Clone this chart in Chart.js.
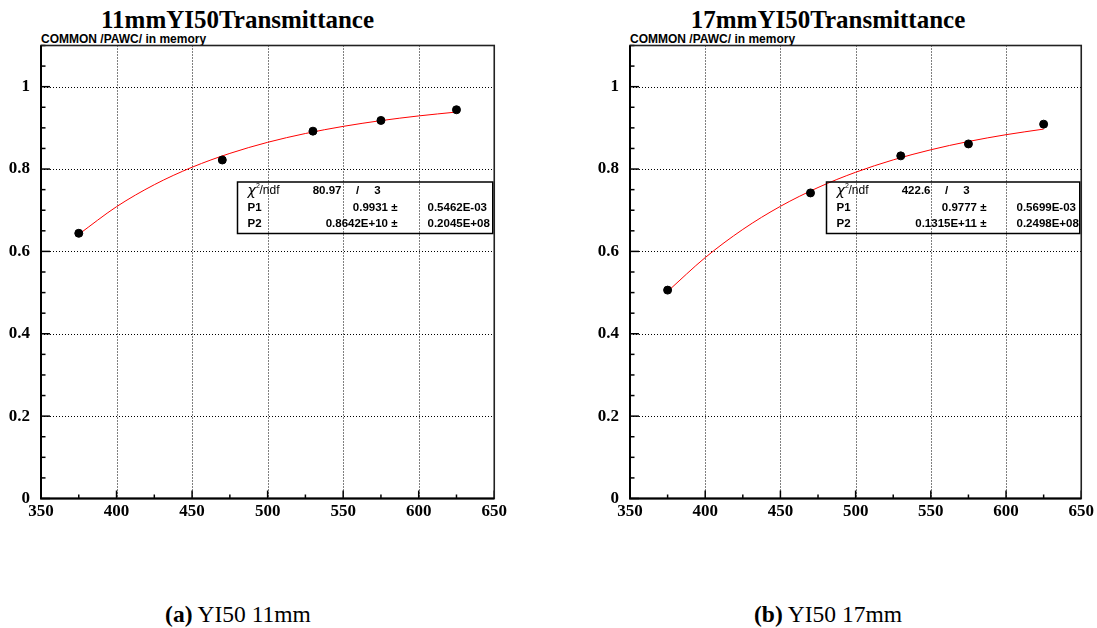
<!DOCTYPE html>
<html><head><meta charset="utf-8">
<script src="https://cdn.jsdelivr.net/npm/chart.js@4.4.1/dist/chart.umd.min.js"></script>
<style>
body{margin:0;width:1097px;height:628px;background:#fff;position:relative;overflow:hidden;}
.panel{position:absolute;top:0;}
.title{position:absolute;top:7.4px;font:bold 25px 'Liberation Serif';line-height:25px;white-space:nowrap;transform:translateX(-50%);color:#000;}
.sub{position:absolute;top:33.3px;font:bold 12px 'Liberation Sans';line-height:12px;white-space:nowrap;color:#000;}
.cap{position:absolute;top:602.5px;font:23.5px 'Liberation Serif';line-height:23.5px;white-space:nowrap;transform:translateX(-50%);color:#000;}
</style>
</head><body>
<div class="title" style="left:237.5px">11mmYI50Transmittance</div>
<div class="title" style="left:828px">17mmYI50Transmittance</div>
<div class="sub" style="left:41px">COMMON /PAWC/ in memory</div>
<div class="sub" style="left:630px">COMMON /PAWC/ in memory</div>
<div class="panel" style="left:0px"><canvas id="c1" width="510" height="540"></canvas></div>
<div class="panel" style="left:589px"><canvas id="c2" width="508" height="540"></canvas></div>
<div class="cap" style="left:238px"><b>(a)</b> YI50 11mm</div>
<div class="cap" style="left:828px"><b>(b)</b> YI50 17mm</div>
<script>
// measured points
const wavelengths = [375, 470, 530, 575, 625];
const trans11 = [0.644, 0.822, 0.892, 0.918, 0.944];
const trans17 = [0.506, 0.742, 0.832, 0.861, 0.909];
// fitted curve
const fitX = [375, 400, 425, 450, 475, 500, 525, 550, 575, 600, 625];
const fit11 = [0.6415, 0.7086, 0.7620, 0.8044, 0.8380, 0.8649, 0.8863, 0.9036, 0.9176, 0.9290, 0.9384];
const fit17 = [0.5028, 0.5850, 0.6534, 0.7095, 0.7551, 0.7922, 0.8223, 0.8468, 0.8669, 0.8834, 0.8970];
// stats box texts
const chiNdf11 = ['80.97', '3'];
const p1_11 = ['0.9931', '0.5462E-03'];
const p2_11 = ['0.8642E+10', '0.2045E+08'];
const chiNdf17 = ['422.6', '3'];
const p1_17 = ['0.9777', '0.5699E-03'];
const p2_17 = ['0.1315E+11', '0.2498E+08'];
// axes
const xMin = 350, xMax = 650, xStep = 25, xMajor = 50;
const yMin = 0, yMax = 1.1, yStep = 0.05;

const isMajorY = v => Math.abs(Math.round(v * 100) % 20) === 0;
const isMajorX = v => Math.round(v) % xMajor === 0;

const framePlugin = {
  id: 'frame',
  beforeDatasetsDraw(chart) {
    const {ctx, chartArea: a, scales: {x, y}} = chart;
    ctx.save();
    ctx.strokeStyle = '#000';
    ctx.lineWidth = 1;
    ctx.setLineDash([1, 2]);
    x.ticks.forEach(t => {
      if (isMajorX(t.value) && t.value > x.min && t.value < x.max) {
        const px = Math.round(x.getPixelForValue(t.value)) + 0.5;
        ctx.beginPath(); ctx.moveTo(px, a.top); ctx.lineTo(px, a.bottom); ctx.stroke();
      }
    });
    y.ticks.forEach(t => {
      if (isMajorY(t.value) && t.value > 0.01 && t.value < 1.09) {
        const py = Math.round(y.getPixelForValue(t.value)) + 0.5;
        ctx.beginPath(); ctx.moveTo(a.left, py); ctx.lineTo(a.right, py); ctx.stroke();
      }
    });
    ctx.setLineDash([]);
    ctx.lineWidth = 1.5;
    x.ticks.forEach(t => {
      const px = x.getPixelForValue(t.value);
      const len = isMajorX(t.value) ? 8 : 4;
      ctx.beginPath(); ctx.moveTo(px, a.bottom); ctx.lineTo(px, a.bottom - len); ctx.stroke();
    });
    y.ticks.forEach(t => {
      const py = y.getPixelForValue(t.value);
      const len = isMajorY(t.value) ? 9 : 4.5;
      ctx.beginPath(); ctx.moveTo(a.left, py); ctx.lineTo(a.left + len, py); ctx.stroke();
    });
    ctx.lineWidth = 1.6;
    ctx.strokeStyle = '#222';
    ctx.strokeRect(a.left, a.top, a.right - a.left, a.bottom - a.top);
    ctx.lineWidth = 2;
    ctx.strokeStyle = '#000';
    ctx.beginPath(); ctx.moveTo(a.left, a.top); ctx.lineTo(a.left, a.bottom); ctx.lineTo(a.right, a.bottom); ctx.stroke();
    ctx.restore();
  },
  afterDatasetsDraw(chart, args, opts) {
    const {ctx, chartArea: a} = chart;
    const L = a.left + 196.5, T = a.top + 136.5, R = a.right - 1.5, B = a.top + 188;
    ctx.save();
    ctx.strokeStyle = '#000';
    ctx.lineWidth = 1.5;
    ctx.strokeRect(L, T, R - L, B - T);
    ctx.fillStyle = '#000';
    ctx.textBaseline = 'middle';
    const r1 = T + 8.5, r2 = T + 26, r3 = T + 41.5;
    // chi2/ndf label
    ctx.font = 'italic 14px "DejaVu Sans"';
    ctx.textAlign = 'left';
    ctx.fillText('\u03c7', L + 10, r1 + 1);
    ctx.font = '7px "Liberation Sans"';
    ctx.fillText('2', L + 18.5, r1 - 4);
    ctx.font = '12px "Liberation Sans"';
    ctx.fillText('/ndf', L + 22, r1);
    ctx.font = 'bold 11.5px "Liberation Sans"';
    ctx.textAlign = 'right';
    ctx.fillText(opts.chi[0], L + 104, r1);
    ctx.textAlign = 'center';
    ctx.fillText('/', L + 120, r1);
    ctx.fillText(opts.chi[1], L + 140, r1);
    ctx.textAlign = 'left';
    ctx.fillText('P1', L + 10, r2);
    ctx.fillText('P2', L + 10, r3);
    ctx.textAlign = 'right';
    ctx.fillText(opts.p1[0] + ' \u00b1', L + 160, r2);
    ctx.fillText(opts.p2[0] + ' \u00b1', L + 160, r3);
    ctx.textAlign = 'left';
    ctx.fillText(opts.p1[1], L + 190, r2);
    ctx.fillText(opts.p2[1], L + 190, r3);
    ctx.restore();
  }
};

function makeChart(id, yVals, fitVals, chi, p1, p2, padRight) {
  const pts = wavelengths.map((w, i) => ({x: w, y: yVals[i]}));
  const fit = fitX.map((w, i) => ({x: w, y: fitVals[i]}));
  const tickFont = {family: "'Liberation Serif', 'Times New Roman', serif", size: 17, weight: 'bold'};
  return new Chart(document.getElementById(id), {
    type: 'scatter',
    data: {
      datasets: [
        {data: pts, pointRadius: 4, pointHoverRadius: 4, backgroundColor: '#000', borderColor: '#000', showLine: false},
        {data: fit, showLine: true, borderColor: '#ff0000', borderWidth: 1, pointRadius: 0, cubicInterpolationMode: 'monotone', fill: false}
      ]
    },
    options: {
      responsive: false,
      animation: false,
      devicePixelRatio: 1,
      layout: {padding: {top: 45.5, right: padRight, bottom: 11.5, left: 0}},
      plugins: {legend: {display: false}, tooltip: {enabled: false}, frame: {chi, p1, p2}},
      scales: {
        x: {
          type: 'linear', min: xMin, max: xMax,
          grid: {display: false, drawTicks: false},
          border: {display: false},
          ticks: {stepSize: xStep, autoSkip: false, maxRotation: 0, padding: 3, color: '#000', font: tickFont,
            callback: v => isMajorX(v) ? String(Math.round(v)) : ''},
          afterFit: s => { s.height = 30; }
        },
        y: {
          type: 'linear', min: yMin, max: yMax,
          grid: {display: false, drawTicks: false},
          border: {display: false},
          ticks: {stepSize: yStep, autoSkip: false, padding: 11, color: '#000', font: tickFont,
            callback: v => (isMajorY(v) && v < 1.05) ? String(Math.round(v * 10) / 10) : ''},
          afterFit: s => { s.width = 41; }
        }
      }
    },
    plugins: [framePlugin]
  });
}
makeChart('c1', trans11, fit11, chiNdf11, p1_11, p2_11, 14.5);
makeChart('c2', trans17, fit17, chiNdf17, p1_17, p2_17, 14);
</script>
</body></html>
